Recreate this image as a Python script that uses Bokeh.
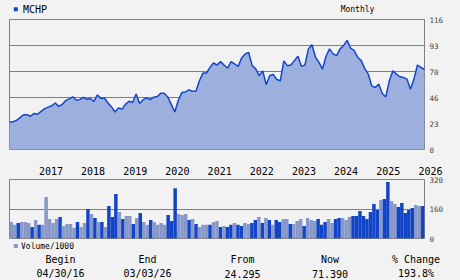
import pandas as pd
from bokeh.plotting import figure
from bokeh.layouts import column
from bokeh.models import (Range1d, FixedTicker, ColumnDataSource, NumeralTickFormatter)
from bokeh.core.properties import value
from bokeh.embed import file_html
from bokeh.resources import INLINE

# ---------------- data ----------------
symbol = "MCHP"
period_label = "Monthly"
begin_date = "2016-04-30"
end_date = "2026-03-03"

prices = [24.3, 24.8, 26.0, 28.5, 31.0, 31.0, 29.7, 32.2, 31.5, 34.0,
          36.5, 37.8, 39.0, 41.5, 38.5, 40.3, 43.8, 45.2, 47.0, 44.0,
          44.5, 46.5, 44.8, 45.5, 43.0, 48.7, 45.6, 46.0, 41.5, 38.0,
          33.5, 37.0, 36.0, 40.5, 43.0, 42.0, 49.5, 41.0, 44.5, 46.0,
          44.5, 46.7, 47.2, 50.2, 50.2, 46.9, 40.3, 33.5, 44.0, 50.8,
          51.4, 53.2, 52.0, 52.0, 61.3, 68.2, 68.2, 73.3, 77.2, 75.4,
          78.4, 75.4, 72.7, 78.4, 76.3, 74.2, 81.7, 85.3, 86.5, 74.8,
          72.0, 66.0, 70.0, 58.0, 66.0, 67.0, 62.5, 61.3, 79.0, 74.8,
          75.4, 79.3, 83.2, 74.2, 75.4, 89.8, 93.5, 82.3, 77.8, 71.8,
          83.2, 89.8, 85.3, 83.8, 89.8, 92.8, 97.4, 90.4, 88.3, 82.3,
          79.3, 72.4, 67.3, 56.8, 55.3, 58.3, 49.9, 46.9, 61.3, 70.3,
          67.3, 64.9, 64.3, 62.8, 53.8, 62.8, 75.4, 73.3, 71.39]

volumes = [90, 74, 84, 90, 90, 84, 63, 101, 74, 74,
           225, 106, 84, 106, 117, 68, 79, 79, 58, 90,
           63, 84, 160, 133, 111, 90, 90, 63, 176, 117,
           241, 144, 106, 122, 122, 79, 111, 138, 90, 74,
           101, 90, 74, 84, 74, 128, 95, 273, 133, 128,
           133, 101, 106, 79, 63, 74, 74, 74, 90, 95,
           63, 68, 63, 74, 84, 74, 68, 84, 79, 84,
           101, 117, 84, 111, 101, 74, 101, 90, 106, 106,
           79, 79, 95, 106, 68, 111, 101, 95, 106, 74,
           90, 106, 84, 106, 111, 111, 101, 117, 122, 122,
           149, 122, 106, 144, 187, 155, 209, 214, 306, 203,
           187, 171, 192, 138, 155, 165, 182, 176, 176]

vol_dark = [0, 0, 1, 0, 0, 0, 1, 0, 1, 0,
            0, 0, 0, 0, 1, 0, 0, 0, 0, 1,
            0, 0, 1, 0, 1, 0, 1, 0, 1, 1,
            1, 0, 1, 0, 0, 1, 0, 1, 0, 0,
            1, 0, 0, 0, 0, 1, 1, 1, 0, 0,
            0, 1, 0, 1, 0, 0, 0, 1, 0, 0,
            1, 0, 1, 1, 0, 1, 1, 0, 0, 1,
            1, 0, 1, 0, 1, 0, 1, 1, 0, 0,
            1, 0, 0, 0, 1, 0, 0, 0, 1, 1,
            1, 0, 0, 1, 1, 0, 0, 0, 1, 1,
            1, 1, 1, 1, 1, 1, 0, 1, 1, 0,
            0, 1, 1, 1, 1, 1, 0, 0, 1]

years = [2017, 2018, 2019, 2020, 2021, 2022, 2023, 2024, 2025, 2026]
price_ticks = [0, 23.2, 46.4, 69.6, 92.8, 116]
vol_ticks = [0, 160, 320]
vol_legend = "Volume/1000"
footer_heads = ["Begin", "End", "From", "Now", "% Change"]
footer_vals = ["04/30/16", "03/03/26", "24.295", "71.390", "193.8%"]

# ---------------- style ----------------
BG = "#f2f2f2"
GRID = "#808080"
AREA = "#9dafdc"
LINE = "#1246cc"
DARK = "#1244c8"
LIGHT = "#8898c8"
MONO = "DejaVu Sans Mono"
W = 460
LEFT, RIGHT = 9, 36
FRAME_W = W - LEFT - RIGHT

t0 = pd.Timestamp(begin_date)
t1 = pd.Timestamp(end_date)
dates = pd.date_range(t0, t1, periods=len(prices))

slot = (t1 - t0) / len(volumes)
bar_x = [t0 + slot * (k + 0.5) for k in range(len(volumes))]
bar_w = slot.total_seconds() * 1000.0
bar_col = [DARK if d else LIGHT for d in vol_dark]

xr = Range1d(start=t0, end=t1)


def text_strip(h, x_range=None):
    f = figure(width=W, height=h, title=None, output_backend="svg", toolbar_location=None,
               x_range=x_range if x_range is not None else Range1d(0, W),
               y_range=Range1d(h, 0), x_axis_location=None, y_axis_location=None,
               min_border=0, min_border_left=0, min_border_right=0,
               min_border_top=0, min_border_bottom=0, frame_align=False,
               background_fill_color=BG, border_fill_color=BG, outline_line_color=None)
    f.xgrid.visible = False
    f.ygrid.visible = False
    return f


def style_right_axis(ax, ticks):
    ax.ticker = FixedTicker(ticks=ticks)
    ax.axis_line_color = None
    ax.major_tick_line_color = None
    ax.minor_tick_line_color = None
    ax.major_tick_out = 0
    ax.major_tick_in = 0
    ax.minor_tick_out = 0
    ax.minor_tick_in = 0
    ax.major_label_text_font = MONO
    ax.major_label_text_font_size = "7.5px"
    ax.major_label_standoff = 5


# ---------------- header ----------------
head = text_strip(14)
head.rect(x=[15.3], y=[8.7], width=4, height=4, fill_color=DARK, line_color=None)
head.text(x=[22.5], y=[8.7], text=[symbol], text_font=value(MONO), text_font_size="10px",
          text_color="black", text_align="left", text_baseline="middle")
head.text(x=[357], y=[8.7], text=[period_label], text_font=value(MONO), text_font_size="8px",
          text_color="black", text_align="center", text_baseline="middle")

# ---------------- price figure ----------------
p = figure(width=W, height=140, x_axis_type="datetime", y_axis_location="right",
           x_axis_location=None, x_range=xr, y_range=Range1d(0, 116), title=None,
           output_backend="svg", toolbar_location=None,
           min_border_left=LEFT, min_border_right=RIGHT, min_border_top=5, min_border_bottom=5,
           background_fill_color=BG, border_fill_color=BG,
           outline_line_color=GRID, outline_line_width=1)

src = ColumnDataSource(dict(x=dates, y=prices))
p.varea(x="x", y1=0, y2="y", source=src, fill_color=AREA, fill_alpha=1.0)
p.line(x="x", y="y", source=src, line_color=LINE, line_width=1.5)

p.xgrid.visible = False
p.ygrid.ticker = FixedTicker(ticks=price_ticks)
p.ygrid.grid_line_color = GRID
style_right_axis(p.yaxis[0], price_ticks)
p.yaxis.formatter = NumeralTickFormatter(format="0")

# ---------------- year labels strip (same time scale, widened to the canvas) ----------------
mpp = (t1 - t0) / FRAME_W
yr_range = Range1d(start=t0 - mpp * LEFT, end=t0 + mpp * (W - LEFT))
ys = text_strip(21, x_range=yr_range)
year_x = [pd.Timestamp(f"{y}-01-01") for y in years]
ys.text(x=year_x, y=[16] * len(years), text=[str(y) for y in years], text_font=value(MONO),
        text_font_size="10px", text_color="black", text_align="left",
        text_baseline="middle", x_offset=1)

# ---------------- volume figure ----------------
v = figure(width=W, height=67, x_axis_type="datetime", x_axis_location=None,
           y_axis_location="right", x_range=xr, y_range=Range1d(0, 320), title=None,
           output_backend="svg", toolbar_location=None,
           min_border_left=LEFT, min_border_right=RIGHT, min_border_top=4, min_border_bottom=4,
           background_fill_color=BG, border_fill_color=BG,
           outline_line_color=GRID, outline_line_width=1)

vsrc = ColumnDataSource(dict(x=bar_x, top=volumes, color=bar_col))
v.vbar(x="x", top="top", bottom=0, width=bar_w, source=vsrc,
       fill_color="color", line_color=None)
v.xgrid.visible = False
v.ygrid.ticker = FixedTicker(ticks=vol_ticks)
v.ygrid.grid_line_color = GRID
style_right_axis(v.yaxis[0], vol_ticks)

# ---------------- footer ----------------
foot = text_strip(38)
foot.rect(x=[15.3], y=[3.5], width=4, height=4, fill_color=LIGHT, line_color=None)
foot.text(x=[20.5], y=[3.5], text=[vol_legend], text_font=value(MONO), text_font_size="8px",
          text_color="black", text_align="left", text_baseline="middle")
col_x = [60, 147, 242, 329.5, 415.5]
foot.text(x=col_x, y=[17.3] * 5, text=footer_heads, text_font=value(MONO),
          text_font_size="10px", text_color="black", text_align="center",
          text_baseline="middle")
foot.text(x=col_x, y=[31.3] * 5, text=footer_vals, text_font=value(MONO),
          text_font_size="10px", text_color="black", text_align="center",
          text_baseline="middle")

layout = column(head, p, ys, v, foot, spacing=0)
layout.styles = {"background-color": BG}
open("out.html", "w").write(file_html(layout, INLINE))
